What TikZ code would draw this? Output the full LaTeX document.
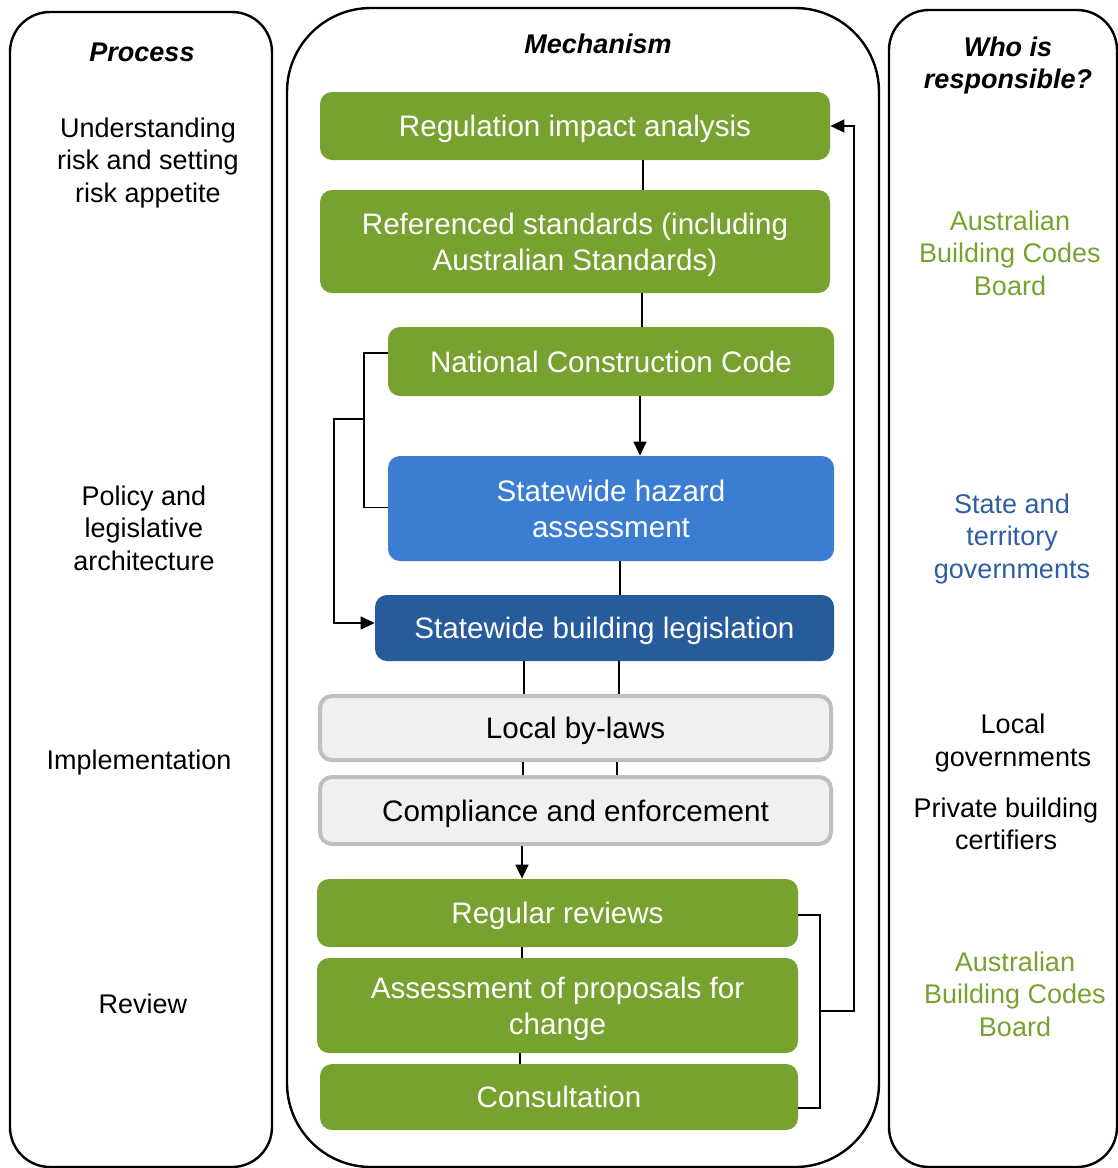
\documentclass[tikz,border=0pt]{standalone}
\usepackage{fontspec}
\setmainfont{Liberation Sans}
\usetikzlibrary{arrows.meta}
\definecolor{cgreen}{HTML}{78A22F}
\definecolor{cblue}{HTML}{3A7DD2}
\definecolor{cdblue}{HTML}{275B9B}
\definecolor{ctblue}{HTML}{2E5DA5}
\definecolor{cgfill}{HTML}{F0F0F0}
\definecolor{cgline}{HTML}{BFBFBF}
\tikzset{
  panel/.style={draw=black, line width=1.2pt},
  boxbase/.style={rounded corners=6pt, inner sep=0pt, align=center, text depth=0pt,
    font=\fontsize{14.8pt}{18pt}\selectfont},
  gbox/.style={boxbase, fill=cgreen, text=white},
  bbox/.style={boxbase, fill=cblue, text=white},
  dbbox/.style={boxbase, fill=cdblue, text=white},
  lbox/.style={boxbase, fill=cgfill, draw=cgline, line width=2pt, text=black},
  side/.style={inner sep=0pt, align=center, text depth=0pt, font=\fontsize{13.5pt}{16.25pt}\selectfont},
  head/.style={side, font=\fontsize{13.5pt}{16.25pt}\selectfont\bfseries\itshape},
  conn/.style={draw=black, line width=0.8pt},
  tip/.style={-{Triangle[length=7pt,width=6.5pt]}}
}
\begin{document}
\begin{tikzpicture}[x=0.5pt,y=-0.5pt]
\useasboundingbox (0,0) rectangle (1118,1168);
% panels
\draw[panel, rounded corners=20pt] (10,12) rectangle (272,1167);
\draw[panel, rounded corners=42pt] (287,8) rectangle (879,1167);
\draw[panel, rounded corners=20pt] (889,10) rectangle (1117,1167);
% headers
\node[head] (hproc) at (142,52) {Process};
\node[head] (hmech) at (598,44) {Mechanism};
\node[head] (hwho) at (1008,62.5) {Who is\\responsible?};
% process column
\node[side] (p1) at (148,160) {Understanding\\risk and setting\\risk appetite};
\node[side] (p2) at (144,528) {Policy and\\legislative\\architecture};
\node[side] (p3) at (139,760) {Implementation};
\node[side] (p4) at (143,1004) {Review};
% responsible column
\node[side, text=cgreen] (r1) at (1010,253) {Australian\\Building Codes\\Board};
\node[side, text=ctblue] (r2) at (1012,536) {State and\\territory\\governments};
\node[side] (r3) at (1013,740) {Local\\governments};
\node[side] (r4) at (1006,823.5) {Private building\\certifiers};
\node[side, text=cgreen] (r5) at (1015,994) {Australian\\Building Codes\\Board};
% mechanism boxes
\node[gbox, minimum width=255pt, minimum height=34pt] (reg) at (575,126) {Regulation impact analysis};
\node[gbox, minimum width=255pt, minimum height=51.5pt] (ref) at (575,241.5) {Referenced standards (including\\Australian Standards)};
\node[gbox, minimum width=223pt, minimum height=34.5pt] (ncc) at (611,361.5) {National Construction Code};
\node[bbox, minimum width=223pt, minimum height=52.5pt] (sha) at (611,508.5) {Statewide hazard\\assessment};
\node[dbbox, minimum width=229.5pt, minimum height=33pt] (sbl) at (604.5,628) {Statewide building legislation};
\node[lbox, minimum width=255.5pt, minimum height=32pt] (lbl) at (575.5,728) {Local by-laws};
\node[lbox, minimum width=255.5pt, minimum height=33.5pt] (comp) at (575.5,810.5) {Compliance and enforcement};
\node[gbox, minimum width=240.5pt, minimum height=34pt] (rr) at (557.5,913) {Regular reviews};
\node[gbox, minimum width=240.5pt, minimum height=47.5pt] (ap) at (557.5,1005.5) {Assessment of proposals for\\change};
\node[gbox, minimum width=239pt, minimum height=33pt] (cons) at (559,1097) {Consultation};
% vertical connectors
\draw[conn] (reg.south -| 643,0) -- (ref.north -| 643,0);
\draw[conn] (ref.south -| 642,0) -- (ncc.north -| 642,0);
\draw[conn, tip] (ncc.south -| 640,0) -- (sha.north -| 640,0);
\draw[conn] (sha.south -| 620,0) -- (sbl.north -| 620,0);
\draw[conn] (sbl.south -| 524,0) -- (lbl.north -| 524,0);
\draw[conn] (sbl.south -| 619,0) -- (lbl.north -| 619,0);
\draw[conn] (lbl.south -| 523,0) -- (comp.north -| 523,0);
\draw[conn] (lbl.south -| 617,0) -- (comp.north -| 617,0);
\draw[conn, tip] (comp.south -| 522,0) -- (rr.north -| 522,0);
\draw[conn] (rr.south -| 522,0) -- (ap.north -| 522,0);
\draw[conn] (ap.south -| 520,0) -- (cons.north -| 520,0);
% left bracket
\coordinate (lbm) at (364,419);
\draw[conn] (ncc.west |- 0,353) -- (364,353) -- (364,507.5) -- (sha.west |- 0,507.5);
\draw[conn, tip] (lbm) -- (334,419) |- (sbl.west |- 0,623);
% right bracket
\coordinate (rbm) at (820,1011);
\draw[conn] (rr.east |- 0,915) -- (820,915) -- (820,1108) -- (cons.east |- 0,1108);
\draw[conn, tip] (rbm) -- (854,1011) |- (reg.east);
\end{tikzpicture}
\end{document}
